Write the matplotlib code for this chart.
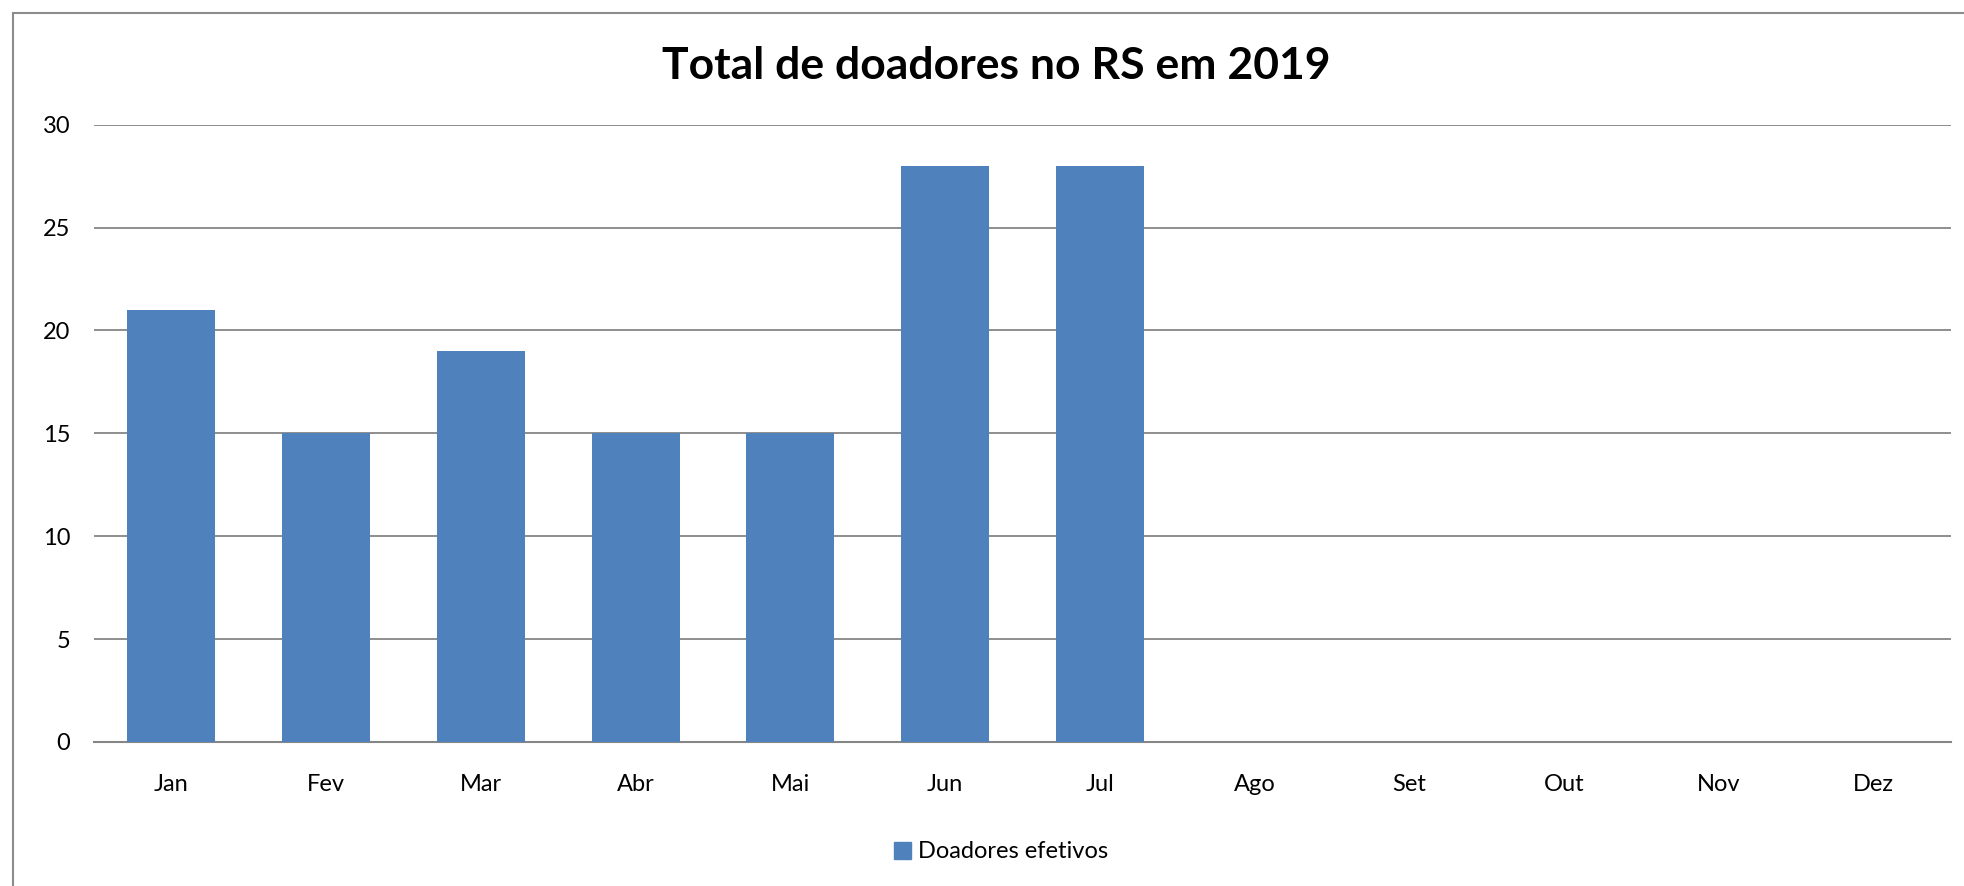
import matplotlib
matplotlib.use('Agg')
import matplotlib.pyplot as plt
from matplotlib.patches import Rectangle, Patch

# dados
meses = ['Jan', 'Fev', 'Mar', 'Abr', 'Mai', 'Jun', 'Jul',
         'Ago', 'Set', 'Out', 'Nov', 'Dez']
doadores = [21, 15, 19, 15, 15, 28, 28, 0, 0, 0, 0, 0]
yticks = [0, 5, 10, 15, 20, 25, 30]

cor_barra = '#4F81BD'
cor_grade = '#868686'

plt.rcParams['font.family'] = ['Lato', 'DejaVu Sans']

W, H = 1965, 886
fig = plt.figure(figsize=(W / 100, H / 100), dpi=100)

# moldura do gráfico (só aparecem topo e esquerda)
fig.patches.append(Rectangle((13 / W, -0.1), 1.2, (H - 13) / H + 0.1,
                             transform=fig.transFigure, fill=False,
                             edgecolor='#8c8c8c', linewidth=1.5))

ax = fig.add_axes([94 / W, 144 / H, (1951 - 94) / W, (761.3 - 144) / H])
x = range(len(meses))
ax.bar(x, doadores, width=0.57, color=cor_barra, zorder=3)

ax.set_xlim(-0.5, len(meses) - 0.5)
ax.set_ylim(0, 30)
ax.set_yticks(yticks)
ax.set_xticks(list(x))
ax.set_xticklabels(meses)
ax.yaxis.grid(True, color=cor_grade, linewidth=1.3)
ax.set_axisbelow(True)
for s in ['left', 'right', 'top']:
    ax.spines[s].set_visible(False)
ax.spines['bottom'].set_color(cor_grade)
ax.spines['bottom'].set_linewidth(1.5)
ax.tick_params(axis='both', length=0, labelsize=17)
ax.tick_params(axis='x', pad=23)
ax.tick_params(axis='y', pad=17)

fig.text(996 / W, 1 - 66 / H, 'Total de doadores no RS em 2019',
         ha='center', va='center', fontsize=32, fontweight='bold')

fig.legend(handles=[Patch(color=cor_barra, label='Doadores efetivos')],
           loc='center', bbox_to_anchor=(1001 / W, 34 / H), frameon=False,
           fontsize=17, handlelength=0.7, handleheight=0.7, handletextpad=0.3)

fig.savefig('out.png', dpi=100, facecolor='white')
